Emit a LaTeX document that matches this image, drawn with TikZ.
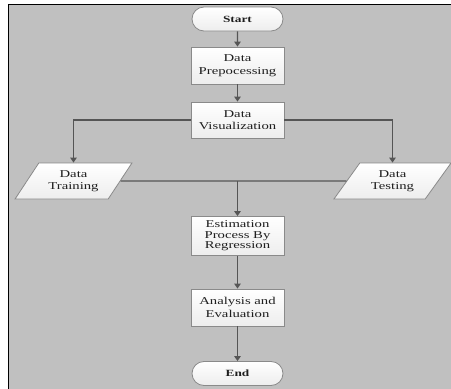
\documentclass[tikz,border=0pt]{standalone}
\usepackage{fontspec}
\setmainfont{Liberation Serif}[FakeStretch=1.4]
\usetikzlibrary{arrows.meta,shapes.geometric,shapes.misc}
\definecolor{bggray}{HTML}{C0C0C0}
\definecolor{linegray}{HTML}{555555}
\definecolor{boxedge}{HTML}{8A8A8A}
\definecolor{txt}{HTML}{1E1E1E}
\tikzset{
  every node/.style={text=txt},
  procbox/.style={rectangle, draw=boxedge, line width=0.8pt, top color=white, bottom color=black!7,
    minimum width=93pt, inner sep=1pt, align=center, font=\fontsize{10.5}{12.5}\selectfont},
  termbox/.style={rounded rectangle, draw=boxedge, line width=0.8pt, top color=white, bottom color=black!7,
    minimum width=93pt, minimum height=24pt, inner sep=1pt, align=center, font=\fontsize{9.5}{11}\selectfont\bfseries},
  iobox/.style={trapezium, trapezium stretches=true, trapezium left angle=53, trapezium right angle=127,
    draw=boxedge, line width=0.8pt, top color=white, bottom color=black!7,
    minimum width=118pt, minimum height=36pt, inner sep=1pt, align=center, font=\fontsize{10.5}{12.5}\selectfont},
  conn/.style={draw=linegray, line width=1.2pt},
  arr/.style={conn, -{Triangle[length=5pt,width=6.5pt]}}
}
\begin{document}
\begin{tikzpicture}[x=1pt,y=-1pt]
\useasboundingbox (0,0) rectangle (451,389);
\fill[bggray] (9,5) rectangle (451,389);
\draw[black, line width=1.5pt] (8.5,389) -- (8.5,4.5) -- (451,4.5);

\node[termbox] (start) at (237.5,19) {Start};
\node[procbox, minimum height=37pt] (prep) at (237.5,65.5) {Data\\Prepocessing};
\node[procbox, minimum height=36pt] (vis) at (237.5,120) {Data\\Visualization};
\node[iobox] (train) at (73.5,181) {Data\\Training};
\node[iobox] (test) at (392.5,181) {Data\\Testing};
\coordinate (mid) at (237.5,181);
\node[procbox, minimum height=39pt, font=\fontsize{10.5}{10.5}\selectfont] (est) at (237.5,236) {Estimation\\Process By\\Regression};
\node[procbox, minimum height=37pt] (ana) at (237.5,307.5) {Analysis and\\Evaluation};
\node[termbox] (end) at (237.5,373.5) {End};

\draw[arr] (start) -- (prep);
\draw[arr] (prep) -- (vis);
\draw[arr] (vis.west) -| (train.north);
\draw[arr] (vis.east) -| (test.north);
\draw[conn] (train.east) -- (test.west);
\draw[arr] (mid) -- (est);
\draw[arr] (est) -- (ana);
\draw[arr] (ana) -- (end);
\end{tikzpicture}
\end{document}
